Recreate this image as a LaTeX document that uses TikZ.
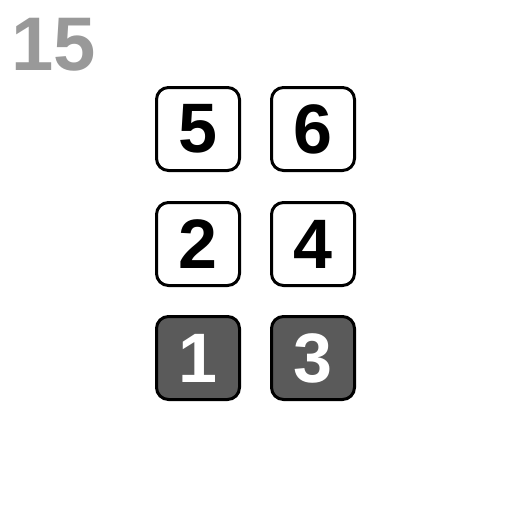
\documentclass[tikz,border=0pt]{standalone}
\usepackage{fontspec}
\setmainfont{Liberation Sans}
\definecolor{numgray}{HTML}{999999}
\definecolor{keydark}{HTML}{5A5A5A}
\begin{document}
\begin{tikzpicture}[x=1pt,y=-1pt,
  keybox/.style={draw=black,line width=3pt,rounded corners=12pt,minimum width=83pt,minimum height=83pt,inner sep=0pt,fill=white,font=\fontsize{70}{70}\selectfont\bfseries},
  keyon/.style={keybox,fill=keydark,text=white}]
\useasboundingbox (0,0) rectangle (512,512);
\node[anchor=base west,text=numgray,font=\fontsize{76}{76}\selectfont\bfseries,inner sep=0pt] (title) at (11,70) {15};
\node[keybox] (k5) at (198,129) {5};
\node[keybox] (k6) at (313,129) {6};
\node[keybox] (k2) at (198,244) {2};
\node[keybox] (k4) at (313,244) {4};
\node[keyon] (k1) at (198,358) {1};
\node[keyon] (k3) at (313,358) {3};
\end{tikzpicture}
\end{document}
